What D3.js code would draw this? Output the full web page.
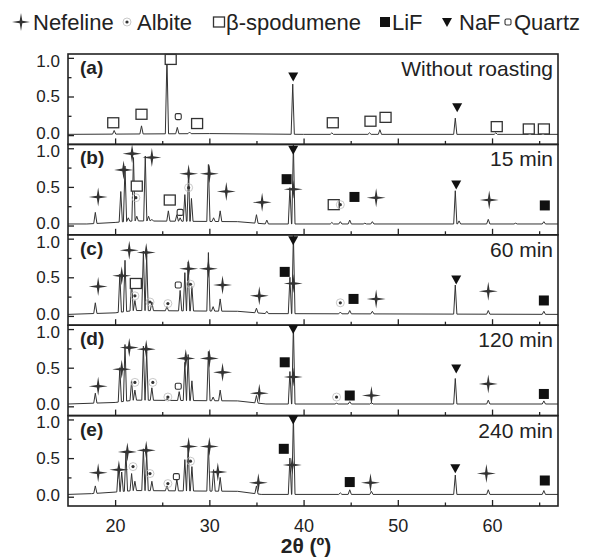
<!DOCTYPE html>
<html>
<head>
<meta charset="utf-8">
<script src="https://cdn.jsdelivr.net/npm/d3@7"></script>
<style>
    body { margin: 0; background: #fff; }
    text { font-family: Arial, "Liberation Sans", sans-serif; fill: #222; }
</style>
</head>
<body>
<div id="chart"></div>
<script>
// 2theta / relative intensity, one list per panel
var peaksA = [[19.9, 0.06], [22.8, 0.12], [25.5, 1.0], [26.6, 0.10], [27.9, 0.04], [38.85, 0.66],
    [43.0, 0.03], [47.0, 0.03], [48.1, 0.07], [56.1, 0.22], [60.4, 0.03], [64.0, 0.03], [65.4, 0.03]];
var peaksB = [[17.9, 0.17], [20.6, 0.44], [21.05, 0.77], [21.4, 0.10], [21.95, 0.88], [22.3, 0.12],
    [23.2, 0.90], [23.55, 0.12], [23.9, 0.08], [25.65, 0.19], [26.55, 0.14], [26.9, 0.10], [27.4, 0.40],
    [27.8, 0.72], [28.1, 0.35], [29.9, 0.79], [30.45, 0.10], [31.15, 0.19], [35.0, 0.14], [36.1, 0.07],
    [38.55, 0.49], [38.92, 1.05], [43.0, 0.04], [43.9, 0.05], [44.9, 0.07], [46.5, 0.03], [47.3, 0.05],
    [56.1, 0.45], [56.5, 0.06], [59.6, 0.08], [62.5, 0.03], [65.5, 0.05]];
var peaksC = [[17.9, 0.17], [20.5, 0.54], [21.05, 0.72], [21.75, 0.45], [22.1, 0.20], [23.0, 0.84],
    [23.35, 0.78], [23.9, 0.18], [25.5, 0.12], [26.9, 0.33], [27.4, 0.56], [27.75, 0.70], [28.15, 0.38],
    [29.9, 0.82], [30.4, 0.12], [31.15, 0.22], [35.0, 0.10], [36.1, 0.06], [38.55, 0.50], [38.92, 1.05],
    [43.9, 0.05], [44.9, 0.07], [47.3, 0.06], [56.1, 0.40], [59.6, 0.07], [65.5, 0.06]];
var peaksD = [[17.9, 0.17], [20.5, 0.50], [21.05, 0.80], [21.75, 0.33], [22.1, 0.21], [23.0, 0.78],
    [23.35, 0.70], [23.9, 0.24], [25.5, 0.10], [26.8, 0.19], [27.4, 0.57], [27.75, 0.67], [28.15, 0.33],
    [29.9, 0.71], [30.4, 0.12], [31.15, 0.21], [35.0, 0.14], [38.55, 0.45], [38.92, 1.05],
    [43.5, 0.04], [44.9, 0.06], [47.2, 0.05], [56.1, 0.36], [59.6, 0.08], [65.5, 0.07]];
var peaksE = [[17.9, 0.14], [20.35, 0.39], [20.7, 0.32], [21.15, 0.58], [21.75, 0.30], [22.1, 0.20],
    [23.0, 0.62], [23.35, 0.55], [23.9, 0.20], [25.5, 0.14], [26.55, 0.23], [27.4, 0.48], [27.75, 0.67],
    [28.15, 0.39], [29.9, 0.67], [30.45, 0.35], [31.15, 0.25], [35.0, 0.14], [38.55, 0.50], [38.92, 1.05],
    [43.9, 0.05], [44.9, 0.09], [47.2, 0.07], [56.1, 0.28], [59.6, 0.09], [65.5, 0.08]];

// background level under the peaks
var baseA = [[15, 0.01], [30, 0.02], [40, 0.01], [67, 0.01]];
var baseB = [[15, 0.02], [17, 0.02], [20, 0.04], [22, 0.06], [33, 0.05], [36, 0.02], [67, 0.02]];
var baseC = [[15, 0.02], [20, 0.04], [22, 0.07], [33, 0.06], [36, 0.03], [67, 0.02]];
var baseD = [[15, 0.03], [20, 0.05], [22, 0.08], [33, 0.07], [36, 0.03], [67, 0.03]];
var baseE = [[15, 0.03], [17.5, 0.04], [20, 0.06], [22, 0.08], [33, 0.07], [35.5, 0.03], [67, 0.03]];

// phase markers: N nefeline, A albite, S b-spodumene, L LiF, F NaF, Q quartz
var marksA = [["S", 19.8, 0.16], ["S", 22.8, 0.27], ["S", 25.9, 0.98], ["Q", 26.7, 0.24], ["S", 28.7, 0.15],
    ["F", 38.9, 0.76], ["S", 43.1, 0.16], ["S", 47.1, 0.18], ["S", 48.7, 0.23], ["F", 56.3, 0.36],
    ["S", 60.5, 0.11], ["S", 63.9, 0.08], ["S", 65.5, 0.08]];
var marksB = [["N", 18.2, 0.37], ["N", 20.9, 0.72], ["N", 21.8, 0.93], ["N", 23.9, 0.88], ["N", 27.8, 0.67],
    ["N", 30.0, 0.67], ["N", 31.8, 0.44], ["N", 35.6, 0.30], ["N", 38.9, 0.47], ["S", 22.3, 0.51],
    ["S", 25.8, 0.33], ["Q", 26.9, 0.17], ["A", 27.8, 0.49], ["A", 22.2, 0.36], ["L", 38.2, 0.60],
    ["F", 38.9, 0.98], ["S", 43.2, 0.27], ["A", 43.9, 0.27], ["L", 45.4, 0.37], ["N", 47.7, 0.36],
    ["F", 56.2, 0.53], ["N", 59.7, 0.33], ["L", 65.6, 0.26]];
var marksC = [["N", 18.2, 0.38], ["N", 20.7, 0.52], ["N", 21.5, 0.85], ["N", 23.3, 0.82], ["N", 27.8, 0.61],
    ["N", 29.9, 0.61], ["N", 31.4, 0.40], ["N", 35.3, 0.26], ["N", 38.9, 0.42], ["A", 22.1, 0.26],
    ["A", 23.7, 0.18], ["A", 25.6, 0.16], ["A", 28.0, 0.41], ["S", 22.2, 0.42], ["Q", 26.7, 0.40],
    ["L", 38.0, 0.57], ["F", 38.9, 0.98], ["A", 43.9, 0.17], ["L", 45.3, 0.22], ["N", 47.7, 0.22],
    ["F", 56.2, 0.47], ["N", 59.6, 0.32], ["L", 65.5, 0.20]];
var marksD = [["N", 18.2, 0.26], ["N", 20.7, 0.48], ["N", 21.5, 0.76], ["N", 23.3, 0.74], ["N", 27.5, 0.62],
    ["N", 30.0, 0.62], ["N", 31.4, 0.44], ["N", 35.3, 0.17], ["N", 38.9, 0.38], ["A", 22.1, 0.31],
    ["A", 24.0, 0.31], ["A", 25.6, 0.12], ["Q", 26.7, 0.26], ["L", 38.0, 0.57], ["F", 38.9, 1.0],
    ["A", 43.5, 0.12], ["L", 44.9, 0.14], ["N", 47.2, 0.14], ["F", 56.2, 0.49], ["N", 59.6, 0.29],
    ["L", 65.5, 0.16]];
var marksE = [["N", 18.2, 0.31], ["N", 20.4, 0.35], ["N", 21.3, 0.58], ["N", 23.3, 0.60], ["N", 27.8, 0.65],
    ["N", 30.0, 0.65], ["N", 30.9, 0.32], ["N", 35.2, 0.18], ["N", 38.8, 0.41], ["A", 21.9, 0.39],
    ["A", 23.7, 0.30], ["A", 25.6, 0.17], ["A", 28.0, 0.46], ["Q", 26.5, 0.26], ["L", 37.9, 0.62],
    ["F", 38.9, 1.0], ["L", 44.9, 0.19], ["N", 47.1, 0.18], ["F", 56.1, 0.37], ["N", 59.4, 0.30],
    ["L", 65.6, 0.21]];

var panelLabels = ["(a)", "(b)", "(c)", "(d)", "(e)"];
var timeLabels = ["Without roasting", "15 min", "60 min", "120 min", "240 min"];
var legendNames = ["Nefeline", "Albite", "\u03b2-spodumene", "LiF", "NaF", "Quartz"];
var legendTypes = ["N", "A", "S", "L", "F", "Q"];

var svgWidth = 591;
var svgHeight = 560;
var plotLeft = 68, plotRight = 558, plotTop = 54, plotBottom = 506;
var panelH = (plotBottom - plotTop) / 5;
var peakHalf = 0.17;

var svg = d3.select("#chart")
    .append("svg")
    .attr("width", svgWidth)
    .attr("height", svgHeight);

var x = d3.scaleLinear().domain([15, 67]).range([plotLeft, plotRight]);

var panels = [
    { peaks: peaksA, base: baseA, marks: marksA },
    { peaks: peaksB, base: baseB, marks: marksB },
    { peaks: peaksC, base: baseC, marks: marksC },
    { peaks: peaksD, base: baseD, marks: marksD },
    { peaks: peaksE, base: baseE, marks: marksE }
];

// build the trace: background points plus a narrow spike per peak
function buildTrace(peaks, base) {
    var baseY = d3.scaleLinear().domain(base.map(d => d[0])).range(base.map(d => d[1]));
    var pts = base.filter(b => !peaks.some(p => Math.abs(p[0] - b[0]) < peakHalf));
    peaks.forEach(function (p) {
        pts.push([p[0] - peakHalf, baseY(p[0] - peakHalf)], [p[0], p[1]], [p[0] + peakHalf, baseY(p[0] + peakHalf)]);
    });
    return pts.sort((a, b) => a[0] - b[0]);
}

function starPath(r, a) {
    return `M0,${-r}L${a},${-a}L${r},0L${a},${a}L0,${r}L${-a},${a}L${-r},0L${-a},${-a}Z`;
}

function drawMark(g, type, cx, cy, big) {
    var m = g.append("g").attr("transform", `translate(${cx},${cy})`);
    if (type === "N") {
        m.append("path").attr("d", starPath(big ? 9 : 9.5, 1.3)).attr("fill", "#333");
    } else if (type === "A") {
        m.append("circle").attr("r", 4).attr("fill", "none").attr("stroke", "#bbb").attr("stroke-width", 0.8);
        m.append("circle").attr("r", 1.6).attr("fill", "#333");
    } else if (type === "S") {
        m.append("rect").attr("x", -5.5).attr("y", -5).attr("width", 11).attr("height", 10)
            .attr("fill", "#fff").attr("stroke", "#333").attr("stroke-width", 1.3);
    } else if (type === "L") {
        m.append("rect").attr("x", -5).attr("y", -5).attr("width", 10).attr("height", 10).attr("fill", "#111");
    } else if (type === "F") {
        m.append("path").attr("d", "M-5,-4L5,-4L0,5Z").attr("fill", "#111");
    } else if (type === "Q") {
        m.append("rect").attr("x", -3).attr("y", -3).attr("width", 6).attr("height", 6).attr("rx", 1.5)
            .attr("fill", "#fff").attr("stroke", "#333").attr("stroke-width", 1.1);
    }
}

panels.forEach(function (p, i) {
    var top = plotTop + i * panelH;
    var bottom = top + panelH;
    var y = d3.scaleLinear().domain([-0.12, 1.05]).range([bottom, top]);
    var g = svg.append("g");

    g.append("clipPath").attr("id", "clip" + i)
        .append("rect").attr("x", plotLeft).attr("y", top).attr("width", plotRight - plotLeft).attr("height", panelH);

    var line = d3.line().x(d => x(d[0])).y(d => y(d[1]));
    g.append("path")
        .datum(buildTrace(p.peaks, p.base))
        .attr("clip-path", `url(#clip${i})`)
        .attr("d", line)
        .attr("fill", "none")
        .attr("stroke", "#333")
        .attr("stroke-width", 1);

    // ticks point inward
    var yMajor = g.append("g").attr("transform", `translate(${plotLeft},0)`)
        .call(d3.axisLeft(y).tickValues([0, 0.5, 1]).tickSize(-6).tickPadding(8).tickFormat(d3.format(".1f")));
    var yMinor = g.append("g").attr("transform", `translate(${plotLeft},0)`)
        .call(d3.axisLeft(y).tickValues([0.25, 0.75]).tickSize(-3.5).tickFormat(""));
    var xMajor = g.append("g").attr("transform", `translate(0,${bottom})`)
        .call(d3.axisBottom(x).tickValues([20, 30, 40, 50, 60]).tickSize(-6).tickPadding(13)
            .tickFormat(i === 4 ? d3.format("d") : ""));
    var xMinor = g.append("g").attr("transform", `translate(0,${bottom})`)
        .call(d3.axisBottom(x).tickValues([25, 35, 45, 55, 65]).tickSize(-3.5).tickFormat(""));
    [yMajor, yMinor, xMajor, xMinor].forEach(function (ax) {
        ax.select(".domain").remove();
        ax.selectAll("line").attr("stroke", "#222").attr("stroke-width", 1.3);
        ax.selectAll("text").attr("font-size", 17).style("font-family", "Arial, 'Liberation Sans', sans-serif").attr("fill", "#333");
    });
    xMajor.selectAll("text").attr("font-size", 18);
    // keep the stacked 0.0 / 1.0 labels of neighbouring panels apart
    yMajor.selectAll(".tick text")
        .attr("y", d => d === 1 ? 3 : (d === 0 ? -2 : 0));

    g.append("rect")
        .attr("x", plotLeft).attr("y", top)
        .attr("width", plotRight - plotLeft).attr("height", panelH)
        .attr("fill", "none").attr("stroke", "#222").attr("stroke-width", 1.6);

    p.marks.forEach(m => drawMark(g, m[0], x(m[1]), y(m[2]), false));

    g.append("text")
        .attr("x", 80).attr("y", top + 20)
        .attr("font-size", 19).attr("font-weight", "bold")
        .text(panelLabels[i]);

    g.append("text")
        .attr("x", 553).attr("y", top + 22)
        .attr("text-anchor", "end")
        .attr("font-size", 21)
        .text(timeLabels[i]);
});

// x axis title
svg.append("text")
    .attr("x", 306).attr("y", 553)
    .attr("text-anchor", "middle")
    .attr("font-size", 21).attr("font-weight", "bold")
    .text("2\u03b8 (\u00ba)");

// legend across the top
var legendSymX = [21, 127, 219, 385, 447, 508];
var legendTextX = [33, 137, 226, 392, 459, 514];
var legend = svg.append("g");
legendNames.forEach(function (name, i) {
    drawMark(legend, legendTypes[i], legendSymX[i], 22, true);
    legend.append("text")
        .attr("x", legendTextX[i]).attr("y", 30)
        .attr("font-size", 22)
        .text(name);
});
</script>
</body>
</html>
